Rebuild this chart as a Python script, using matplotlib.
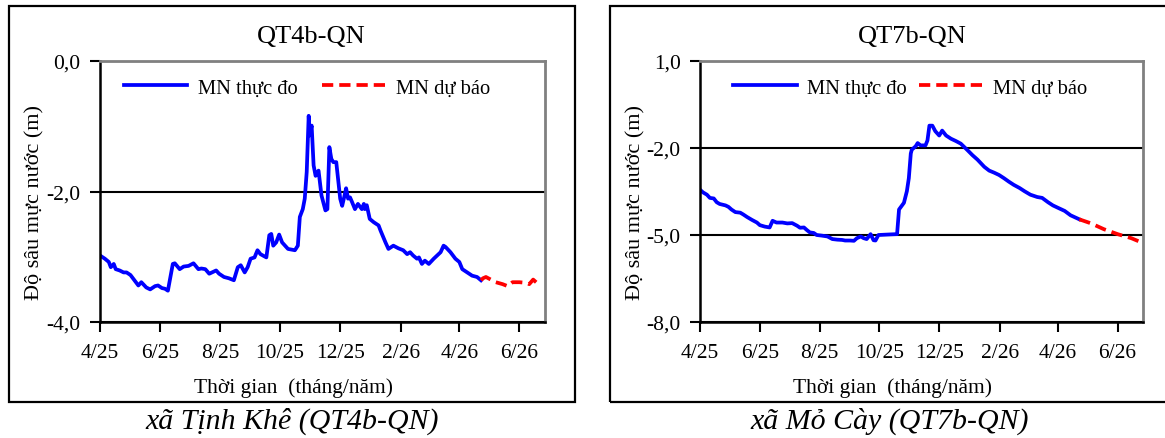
import numpy as np
import matplotlib.pyplot as plt
import matplotlib.dates as mdates
from matplotlib.patches import Rectangle

plt.rcParams['font.family'] = ['Liberation Serif', 'DejaVu Serif']

# ngày tính từ 01/04/2025, độ sâu mực nước (m)
qt4_days = [0, 5, 9, 11, 14, 16, 20, 24, 27, 31, 34, 39, 42, 47, 51, 56, 59, 63, 66, 69,
            74, 76, 81, 85, 90, 95, 100, 103, 107, 111, 118, 121, 126, 131, 136, 140, 143,
            147, 150, 153, 157, 160, 163, 169, 172, 174, 176, 179, 182, 185, 191, 198, 201,
            203, 206, 208, 210, 212, 213, 215, 217, 219, 222, 225, 229, 231, 233, 235, 237,
            240, 244, 246, 248, 250, 252, 254, 256, 259, 262, 266, 268, 269, 271, 274, 278,
            283, 285, 290, 293, 298, 303, 308, 312, 315, 318, 322, 324, 327, 330, 334, 339,
            346, 349, 351, 356, 361, 365, 368, 373, 378, 383, 387]
qt4_obs = [-2.98, -3.03, -3.08, -3.16, -3.11, -3.19, -3.21, -3.24, -3.24, -3.28, -3.34, -3.44,
           -3.39, -3.47, -3.50, -3.45, -3.44, -3.48, -3.49, -3.52, -3.11, -3.10, -3.19, -3.15,
           -3.14, -3.10, -3.19, -3.18, -3.19, -3.26, -3.21, -3.26, -3.31, -3.33, -3.36, -3.16,
           -3.13, -3.24, -3.16, -3.03, -3.01, -2.90, -2.96, -3.01, -2.67, -2.65, -2.83, -2.78,
           -2.66, -2.78, -2.88, -2.90, -2.83, -2.39, -2.27, -2.11, -1.70, -0.84, -1.14, -0.99,
           -1.60, -1.76, -1.68, -2.06, -2.29, -2.27, -1.32, -1.50, -1.55, -1.55, -2.11, -2.22,
           -2.09, -1.95, -2.11, -2.09, -2.16, -2.27, -2.19, -2.27, -2.19, -2.27, -2.21, -2.42,
           -2.47, -2.52, -2.60, -2.78, -2.88, -2.83, -2.87, -2.90, -2.96, -2.93, -2.98, -3.03,
           -3.01, -3.11, -3.06, -3.11, -3.03, -2.93, -2.83, -2.85, -2.93, -3.03, -3.08, -3.19,
           -3.24, -3.29, -3.31, -3.36]
qt4_fc_days = [387, 389, 392, 397, 402, 409, 414, 419, 426, 433, 436, 440, 446]
qt4_fc = [-3.36, -3.33, -3.31, -3.35, -3.39, -3.42, -3.45, -3.39, -3.39, -3.40, -3.42, -3.35, -3.43]

qt7_days = [0, 3, 7, 10, 14, 17, 20, 26, 29, 32, 36, 41, 44, 48, 53, 58, 61, 66, 71, 74, 78,
            84, 89, 94, 99, 102, 106, 109, 112, 116, 119, 124, 130, 135, 140, 145, 148, 153,
            157, 160, 164, 167, 170, 174, 177, 179, 182, 188, 194, 201, 203, 208, 211, 213,
            215, 216, 220, 222, 225, 230, 232, 234, 237, 240, 244, 247, 251, 256, 261, 266,
            273, 278, 283, 290, 295, 300, 305, 310, 315, 320, 326, 331, 337, 344, 349, 355,
            360, 365, 372, 378, 387]
qt7_obs = [-3.44, -3.53, -3.61, -3.72, -3.74, -3.87, -3.93, -3.98, -4.03, -4.12, -4.21, -4.23,
           -4.29, -4.38, -4.48, -4.57, -4.66, -4.71, -4.74, -4.51, -4.57, -4.57, -4.60, -4.59,
           -4.68, -4.75, -4.74, -4.83, -4.91, -4.93, -5.00, -5.02, -5.05, -5.14, -5.16, -5.17,
           -5.19, -5.19, -5.20, -5.11, -5.05, -5.11, -5.14, -4.97, -5.18, -5.19, -5.00, -4.99,
           -4.98, -4.97, -4.12, -3.89, -3.49, -3.04, -2.19, -2.06, -1.94, -1.83, -1.91, -1.91,
           -1.74, -1.23, -1.23, -1.42, -1.57, -1.40, -1.57, -1.68, -1.76, -1.85, -2.08, -2.25,
           -2.40, -2.65, -2.78, -2.85, -2.93, -3.04, -3.16, -3.27, -3.38, -3.49, -3.61, -3.69,
           -3.72, -3.87, -3.98, -4.06, -4.17, -4.32, -4.46]
qt7_fc_days = [387, 399, 412, 426, 440, 452]
qt7_fc = [-4.46, -4.60, -4.80, -4.97, -5.11, -5.28]

start = np.datetime64('2025-04-01')
x_end = start + np.timedelta64(452, 'D')

panels = [
    dict(title='QT4b-QN', caption='xã Tịnh Khê (QT4b-QN)',
         d=qt4_days, v=qt4_obs, fd=qt4_fc_days, fv=qt4_fc,
         ylim=(-4, 0), yticks=[0, -2, -4], pos=[0.0858, 0.2642, 0.382, 0.5946],
         box=(0.0077, 0.0820, 0.4858, 0.9020), leg_x=0.465, colsp=1.2, tx=0.474),
    dict(title='QT7b-QN', caption='xã Mỏ Cày (QT7b-QN)',
         d=qt7_days, v=qt7_obs, fd=qt7_fc_days, fv=qt7_fc,
         ylim=(-8, 1), yticks=[1, -2, -5, -8], pos=[0.6009, 0.2642, 0.3803, 0.5946],
         box=(0.5236, 0.0820, 0.4800, 0.9020), leg_x=0.475, colsp=0.6, tx=0.479),
]

fig = plt.figure(figsize=(11.65, 4.39), dpi=100)

for p in panels:
    fig.patches.append(Rectangle(p['box'][:2], p['box'][2], p['box'][3], transform=fig.transFigure,
                                 fill=False, edgecolor='black', linewidth=1.6))
    ax = fig.add_axes(p['pos'])
    xd = start + np.array(p['d']).astype('timedelta64[D]')
    xf = start + np.array(p['fd']).astype('timedelta64[D]')
    ax.plot(xd, p['v'], color='#0000ff', linewidth=2.7, label='MN thực đo', solid_joinstyle='round')
    ax.plot(xf, p['fv'], color='#ff0000', linewidth=2.7, linestyle=(0, (3, 1.6)), label='MN dự báo')

    ax.set_xlim(start, x_end)
    ax.set_ylim(*p['ylim'])
    ax.set_yticks(p['yticks'])
    ax.set_yticklabels([f'{t:.1f}'.replace('.', ',') for t in p['yticks']])
    ax.xaxis.set_major_locator(mdates.MonthLocator(bymonth=[2, 4, 6, 8, 10, 12]))
    ax.xaxis.set_major_formatter(plt.FuncFormatter(
        lambda val, pos: f"{mdates.num2date(val).month}/{mdates.num2date(val).strftime('%y')}"))
    for y in p['yticks']:
        ax.axhline(y, color='black', linewidth=1.5, zorder=0)

    for s in ['left', 'bottom']:
        ax.spines[s].set_color('black')
        ax.spines[s].set_linewidth(1.8)
    for s in ['top', 'right']:
        ax.spines[s].set_color('#808080')
        ax.spines[s].set_linewidth(2)
    ax.tick_params(direction='out', length=7, width=1.5, labelsize=15.5)
    ax.tick_params(axis='x', pad=8)
    ax.tick_params(axis='y', pad=7)

    ax.set_title(p['title'], fontsize=19, pad=14, x=p['tx'])
    ax.set_ylabel('Độ sâu mực nước (m)', fontsize=16)
    ax.yaxis.set_label_coords(-0.124, 0.462)
    ax.set_xlabel('Thời gian  (tháng/năm)', fontsize=15.5)
    ax.xaxis.set_label_coords(0.435, -0.21)
    ax.legend(loc='upper center', bbox_to_anchor=(p['leg_x'], 1.005), ncol=2, frameon=False,
              fontsize=14.8, handlelength=3.1, handletextpad=0.5, columnspacing=p['colsp'])

    fig.text(p['box'][0] + p['box'][2] / 2, 0.041, p['caption'], ha='center', va='center',
             fontsize=21.5, style='italic')

fig.savefig('out.png', dpi=100)
